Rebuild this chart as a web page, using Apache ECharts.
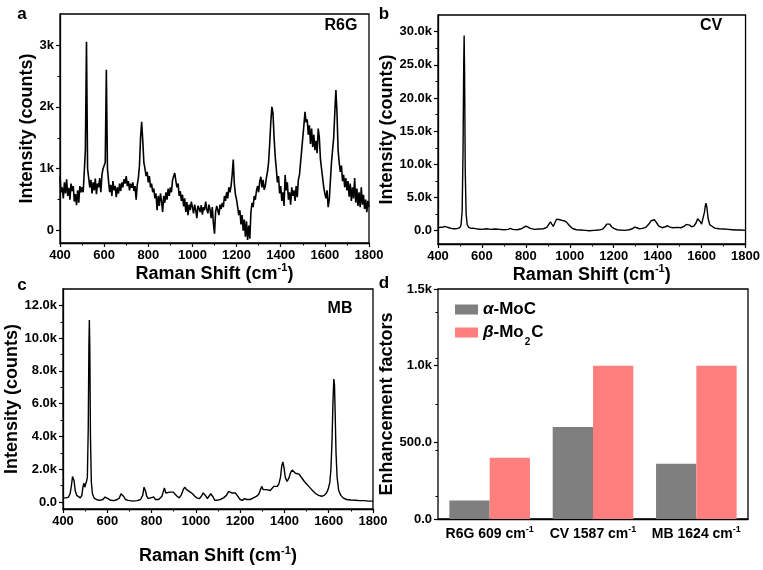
<!DOCTYPE html>
<html><head><meta charset="utf-8">
<script src="https://cdn.jsdelivr.net/npm/echarts@6/dist/echarts.min.js"></script>
<style>html,body{margin:0;padding:0;background:#fff}#c{width:763px;height:570px}</style>
</head><body><div id="c"></div>
<script>
// ---------- data ----------
const r6gStart = 400, r6gStep = 5;
const r6gIntensity = [
 880,620,700,520,780,600,830,560,690,500,760,640,720,470,590,410,650,450,720,620,
 700,620,950,1300,3050,1000,850,700,820,600,780,650,840,590,760,700,850,620,900,1000,
 1000,1100,2600,1000,800,620,740,560,800,650,720,540,700,600,760,640,780,700,830,760,
 880,720,800,650,760,690,780,640,720,500,740,850,1050,1500,1760,1450,1100,1000,880,950,
 780,880,700,760,620,680,520,600,330,560,400,600,480,300,560,450,620,500,680,560,
 700,620,820,880,930,800,700,760,560,640,480,580,390,520,300,460,250,420,330,470,
 380,280,420,330,200,400,360,300,410,260,380,330,470,350,280,420,340,200,380,120,
 -50,300,400,330,250,420,350,450,380,560,480,620,520,700,620,720,900,1150,750,580,
 500,380,250,330,100,250,0,180,-100,150,-150,80,-130,300,450,380,560,500,640,720,
 620,800,870,700,820,660,720,850,950,1100,1400,1750,2000,1900,1500,1200,1000,780,880,600,
 720,480,620,400,900,650,780,500,620,420,700,560,650,480,720,540,820,900,1100,1300,
 1500,1700,1920,1750,1800,1550,1700,1400,1650,1350,1550,1300,1450,1250,1650,1500,1150,1000,850,700,
 600,520,650,380,500,800,1100,1300,1500,1900,2270,1900,1300,1100,950,1050,800,900,700,850,
 650,800,550,760,480,700,520,850,450,680,400,620,380,700,420,580,350,500,300,480,380
];
const cvSpectrum = [
 [400,400],[410,550],[420,500],[430,650],[440,550],[450,450],[460,350],[470,300],[480,300],[490,350],
 [500,500],[505,900],[510,3000],[514,12000],[517,25000],[519,29400],[521,24000],[524,9000],[528,2500],[533,900],
 [540,500],[550,350],[560,400],[580,250],[600,200],[620,300],[640,200],[660,250],[680,200],[700,150],
 [720,200],[730,350],[740,200],[760,150],[780,300],[790,500],[800,700],[810,550],[820,350],[840,200],
 [860,250],[880,300],[895,500],[905,1000],[912,1350],[918,1000],[925,650],[932,1200],[940,1750],[948,1600],
 [955,1650],[965,1550],[975,1500],[985,1300],[995,900],[1005,550],[1015,300],[1030,150],[1050,100],[1070,50],
 [1090,0],[1110,50],[1130,100],[1150,250],[1160,600],[1168,1000],[1175,1200],[1182,1000],[1190,600],[1200,350],
 [1215,150],[1230,100],[1250,50],[1270,150],[1285,300],[1295,550],[1305,450],[1315,300],[1330,350],[1345,500],
 [1360,1000],[1370,1500],[1378,1750],[1385,1650],[1395,1200],[1405,700],[1420,450],[1435,600],[1445,750],[1455,550],
 [1470,450],[1490,500],[1505,450],[1520,650],[1530,950],[1537,1050],[1545,850],[1555,600],[1565,700],[1575,1200],
 [1582,1800],[1587,1950],[1593,1400],[1600,1000],[1607,1300],[1613,2800],[1617,3800],[1620,4150],[1624,3500],[1630,1800],
 [1637,900],[1645,600],[1660,400],[1680,300],[1700,250],[1720,200],[1740,150],[1760,100],[1780,100],[1800,50]
];
const mbSpectrum = [
 [400,250],[415,250],[425,300],[432,500],[438,1000],[443,1550],[446,1650],[450,1300],[455,700],[462,400],
 [470,300],[478,250],[485,400],[490,900],[494,1150],[498,900],[502,850],[506,1250],[510,1500],[514,4500],
 [517,9500],[519,11100],[521,9500],[524,4000],[528,1200],[533,500],[540,250],[550,150],[565,100],[580,150],
 [590,300],[596,350],[603,200],[615,100],[630,80],[645,150],[655,250],[662,500],[667,580],[673,350],
 [682,150],[695,100],[715,50],[735,80],[750,150],[760,400],[766,900],[772,700],[778,350],[785,200],
 [795,250],[803,150],[810,300],[817,150],[825,250],[832,150],[840,200],[847,350],[852,600],[858,850],
 [864,550],[872,500],[882,600],[890,650],[898,600],[906,500],[915,350],[925,250],[935,450],[943,750],
 [950,900],[958,750],[965,650],[975,600],[985,500],[995,350],[1005,250],[1015,200],[1025,350],[1033,550],
 [1040,600],[1046,350],[1052,200],[1060,300],[1067,500],[1072,550],[1078,300],[1085,100],[1095,100],[1110,150],
 [1125,250],[1138,400],[1148,650],[1155,700],[1162,550],[1170,500],[1178,550],[1185,500],[1192,300],[1200,150],
 [1210,100],[1220,200],[1230,150],[1245,150],[1260,250],[1275,350],[1285,500],[1293,800],[1298,950],[1304,750],
 [1312,650],[1320,750],[1328,800],[1336,700],[1345,800],[1352,950],[1360,1000],[1368,950],[1375,1100],[1382,1500],
 [1388,2200],[1393,2450],[1398,2100],[1404,1500],[1412,1250],[1420,1450],[1428,1800],[1435,1950],[1442,1900],[1450,1750],
 [1458,1700],[1466,1700],[1474,1600],[1482,1400],[1490,1250],[1500,1100],[1510,950],[1520,800],[1530,650],[1542,500],
 [1555,400],[1568,350],[1580,400],[1590,550],[1598,800],[1605,1200],[1610,2000],[1615,3800],[1619,6000],[1623,7500],
 [1626,7200],[1629,5500],[1633,3000],[1638,1500],[1645,700],[1655,400],[1665,250],[1680,150],[1700,120],[1720,100],
 [1740,80],[1760,80],[1780,50],[1800,50]
];
const efCategories = ['R6G 609 cm⁻¹', 'CV 1587 cm⁻¹', 'MB 1624 cm⁻¹'];
const efSeriesNames = ['α-MoC', 'β-Mo2C'];
const efAlpha = [120, 600, 360];
const efBeta = [400, 1000, 1000];

const shiftTicks = [400, 600, 800, 1000, 1200, 1400, 1600, 1800];
const shiftLabels = ['400', '600', '800', '1000', '1200', '1400', '1600', '1800'];
const r6gYTicks = [0, 1000, 2000, 3000];
const r6gYLabels = ['0', '1k', '2k', '3k'];
const r6gYMinor = [500, 1500, 2500];
const cvYTicks = [0, 5000, 10000, 15000, 20000, 25000, 30000];
const cvYLabels = ['0.0', '5.0k', '10.0k', '15.0k', '20.0k', '25.0k', '30.0k'];
const cvYMinor = [2500, 7500, 12500, 17500, 22500, 27500];
const mbYTicks = [0, 2000, 4000, 6000, 8000, 10000, 12000];
const mbYLabels = ['0.0', '2.0k', '4.0k', '6.0k', '8.0k', '10.0k', '12.0k'];
const mbYMinor = [1000, 3000, 5000, 7000, 9000, 11000];
const efYTicks = [0, 500, 1000, 1500];
const efYLabels = ['0.0', '500.0', '1.0k', '1.5k'];

// ---------- chart ----------
const FONT = '"Liberation Sans", Arial, sans-serif';
const r6gData = r6gIntensity.map((v, i) => [r6gStart + i * r6gStep, v]);
const BLACK = '#000';

function supRich(size) {
  return {
    sup: { fontFamily: FONT, fontWeight: 'bold', fontSize: size, color: BLACK, verticalAlign: 'top', lineHeight: 10 }
  };
}
function lookupFormatter(ticks, labels) {
  return v => { const i = ticks.indexOf(v); return i >= 0 ? labels[i] : ''; };
}
function xSpec(gi, gap) {
  return {
    type: 'value', gridIndex: gi, min: 400, max: 1800, interval: 200,
    axisLine: { onZero: false, lineStyle: { color: BLACK, width: 1.3 } },
    axisTick: { show: true, length: 4, lineStyle: { color: BLACK, width: 1.2 } },
    minorTick: { show: true, splitNumber: 2, length: 2.5, lineStyle: { color: BLACK, width: 1 } },
    splitLine: { show: false },
    axisLabel: { formatter: lookupFormatter(shiftTicks, shiftLabels), fontFamily: FONT, fontWeight: 'bold', fontSize: 13, color: BLACK, margin: 6 },
    name: 'Raman Shift (cm{sup|-1})', nameLocation: 'middle', nameGap: gap,
    nameTextStyle: { fontFamily: FONT, fontWeight: 'bold', fontSize: 18, color: BLACK, lineHeight: 22, rich: supRich(11) }
  };
}
function ySpec(gi, min, max, ticks, labels, name, gap) {
  return {
    type: 'value', gridIndex: gi, min: min, max: max, position: 'left', offset: 0,
    axisLine: { onZero: false, lineStyle: { color: BLACK, width: 1.3 } },
    axisTick: { show: true, length: 4, customValues: ticks, lineStyle: { color: BLACK, width: 1.2 } },
    splitLine: { show: false },
    axisLabel: { customValues: ticks, formatter: lookupFormatter(ticks, labels), fontFamily: FONT, fontWeight: 'bold', fontSize: 13, color: BLACK, margin: 6 },
    name: name, nameLocation: 'middle', nameGap: gap,
    nameTextStyle: { fontFamily: FONT, fontWeight: 'bold', fontSize: 18, color: BLACK }
  };
}
function yMinor(gi, min, max, ticks) {
  return {
    type: 'value', gridIndex: gi, min: min, max: max, position: 'left', offset: 0,
    axisLine: { show: false }, splitLine: { show: false },
    axisLabel: { show: false },
    axisTick: { show: true, length: 2.5, customValues: ticks, lineStyle: { color: BLACK, width: 1 } }
  };
}

const gridBase = { show: true, borderColor: BLACK, borderWidth: 1.3, backgroundColor: 'transparent' };
const option = {
  animation: false,
  backgroundColor: '#fff',
  grid: [
    Object.assign({ left: 60, top: 14, width: 309, height: 229 }, gridBase),
    Object.assign({ left: 438, top: 15, width: 310, height: 229 }, gridBase),
    Object.assign({ left: 63, top: 289, width: 310, height: 220 }, gridBase),
    Object.assign({ left: 438, top: 289, width: 310, height: 230 }, gridBase)
  ],
  xAxis: [
    xSpec(0, 17), xSpec(1, 17), xSpec(2, 36),
    {
      type: 'category', gridIndex: 3, data: efCategories,
      axisLine: { lineStyle: { color: BLACK, width: 1.3 } },
      axisTick: { show: false },
      axisLabel: {
        interval: 0, fontFamily: FONT, fontWeight: 'bold', fontSize: 14, color: BLACK, margin: 6, lineHeight: 18,
        formatter: v => v.replace('⁻¹', '{sup|-1}'), rich: supRich(9)
      }
    }
  ],
  yAxis: [
    ySpec(0, -200, 3500, r6gYTicks, r6gYLabels, 'Intensity (counts)', 22),
    ySpec(1, -2000, 32500, cvYTicks, cvYLabels, 'Intensity (counts)', 33),
    ySpec(2, -430, 13000, mbYTicks, mbYLabels, 'Intensity (counts)', 31),
    Object.assign(ySpec(3, 0, 1500, efYTicks, efYLabels, 'Enhancement factors', 34), {
      minorTick: { show: true, splitNumber: 2, length: 2.5, lineStyle: { color: BLACK, width: 1 } }
    }),
    yMinor(0, -200, 3500, r6gYMinor),
    yMinor(1, -2000, 32500, cvYMinor),
    yMinor(2, -430, 13000, mbYMinor)
  ],
  legend: {
    left: 450, top: 296, orient: 'vertical', itemWidth: 23, itemHeight: 10, itemGap: 6,
    icon: 'rect', data: efSeriesNames,
    formatter: n => n === 'α-MoC' ? '{i|α}{n|-MoC}' : '{i|β}{n|-Mo}{s|2}{n|C}',
    textStyle: {
      fontFamily: FONT, fontWeight: 'bold', fontSize: 17, color: BLACK, lineHeight: 16,
      rich: {
        i: { fontFamily: FONT, fontWeight: 'bold', fontStyle: 'italic', fontSize: 17, color: BLACK, lineHeight: 16 },
        n: { fontFamily: FONT, fontWeight: 'bold', fontSize: 17, color: BLACK, lineHeight: 16 },
        s: { fontFamily: FONT, fontWeight: 'bold', fontSize: 10, color: BLACK, lineHeight: 8, verticalAlign: 'bottom', padding: [0, 1, -7, 1] }
      }
    }
  },
  graphic: [
    ['a', 22, 14, 17], ['b', 384, 14, 17], ['c', 22, 285, 17], ['d', 384, 283, 17],
    ['R6G', 341, 26, 16], ['CV', 711, 26, 16], ['MB', 340, 309, 16]
  ].map(t => ({
    type: 'text', x: t[1], y: t[2],
    style: { text: t[0], fill: BLACK, font: 'bold ' + t[3] + 'px ' + FONT, align: 'center', verticalAlign: 'middle', textAlign: 'center', textVerticalAlign: 'middle' }
  })),
  series: [
    { type: 'line', xAxisIndex: 0, yAxisIndex: 0, data: r6gData, showSymbol: false, lineStyle: { color: BLACK, width: 1.6 }, itemStyle: { color: BLACK } },
    { type: 'line', xAxisIndex: 1, yAxisIndex: 1, data: cvSpectrum, showSymbol: false, lineStyle: { color: BLACK, width: 1.4 }, itemStyle: { color: BLACK } },
    { type: 'line', xAxisIndex: 2, yAxisIndex: 2, data: mbSpectrum, showSymbol: false, lineStyle: { color: BLACK, width: 1.4 }, itemStyle: { color: BLACK } },
    { type: 'bar', name: efSeriesNames[0], xAxisIndex: 3, yAxisIndex: 3, data: efAlpha, barGap: '0%', barCategoryGap: '22%', itemStyle: { color: '#7f7f7f' } },
    { type: 'bar', name: efSeriesNames[1], xAxisIndex: 3, yAxisIndex: 3, data: efBeta, barGap: '0%', barCategoryGap: '22%', itemStyle: { color: '#ff7f7f' } }
  ]
};
const chart = echarts.init(document.getElementById('c'), null, { renderer: 'canvas' });
chart.setOption(option);
</script></body></html>
